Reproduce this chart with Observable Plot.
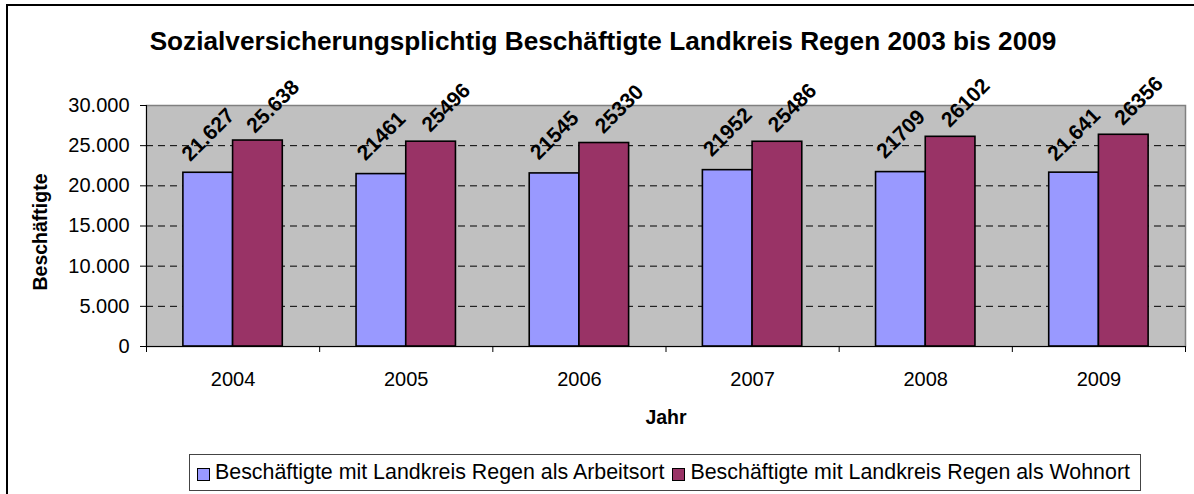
<!DOCTYPE html>
<html>
<head>
<meta charset="utf-8">
<script src="https://cdn.jsdelivr.net/npm/d3@7"></script>
<script src="https://cdn.jsdelivr.net/npm/@observablehq/plot@0.6"></script>
<style>
  html, body { margin: 0; padding: 0; background: #fff; }
  body { width: 1194px; height: 494px; overflow: hidden; font-family: "Liberation Sans", Arial, sans-serif; }
  #wrap { position: relative; width: 1194px; height: 494px; }
  #border { position: absolute; left: 6px; top: 4px; width: 1300px; height: 600px; border-left: 2px solid #000; border-top: 2px solid #000; box-sizing: border-box; }
  #chart { position: absolute; left: 0; top: 0; }
  .title { position: absolute; left: 0; width: 1206px; top: 26px; text-align: center; font-weight: bold; font-size: 26.2px; color: #000; white-space: nowrap; }
  .ylab { position: absolute; left: 40px; top: 232px; transform: translate(-50%, -50%) rotate(-90deg); font-weight: bold; font-size: 19.5px; white-space: nowrap; }
  .xlab { position: absolute; left: 666px; top: 417px; transform: translate(-50%, -50%); font-weight: bold; font-size: 19.5px; white-space: nowrap; }
  .legend { position: absolute; left: 189px; top: 454px; width: 952px; height: 37px; border: 1px solid #444; box-sizing: border-box; display: flex; align-items: center; padding-left: 7px; font-size: 21.4px; white-space: nowrap; background: #fff; }
  .sw { display: inline-block; width: 11px; height: 11px; border: 1px solid #000; margin-right: 5px; margin-top: 3px; }
  .item { display: flex; align-items: center; margin-right: 8px; }
</style>
</head>
<body>
<div id="wrap">
  <div id="border"></div>
  <div id="chart"></div>
  <div class="title" id="title"></div>
  <div class="ylab" id="ylab"></div>
  <div class="xlab" id="xlab"></div>
  <div class="legend" id="legend"></div>
</div>
<script>
// ---- data ----
const years = [2004, 2005, 2006, 2007, 2008, 2009];
const arbeitsort = [21627, 21461, 21545, 21952, 21709, 21641];
const wohnort = [25638, 25496, 25330, 25486, 26102, 26356];
const arbeitsortLabels = ["21.627", "21461", "21545", "21952", "21709", "21.641"];
const wohnortLabels = ["25.638", "25496", "25330", "25486", "26102", "26356"];
const seriesNames = ["Beschäftigte mit Landkreis Regen als Arbeitsort", "Beschäftigte mit Landkreis Regen als Wohnort"];
const seriesColors = ["#9999FF", "#993366"];
const yTicks = [0, 5000, 10000, 15000, 20000, 25000, 30000];
const yTickLabels = ["0", "5.000", "10.000", "15.000", "20.000", "25.000", "30.000"];
const titleText = "Sozialversicherungsplichtig Beschäftigte Landkreis Regen 2003 bis 2009";
const yTitle = "Beschäftigte";
const xTitle = "Jahr";

// ---- derived table ----
const barW = 0.287; // bar width as fraction of a category
const rows = [];
years.forEach((yr, i) => {
  rows.push({year: yr, series: 0, value: arbeitsort[i], label: arbeitsortLabels[i], x1: yr - barW, x2: yr});
  rows.push({year: yr, series: 1, value: wohnort[i], label: wohnortLabels[i], x1: yr, x2: yr + barW});
});
const boundaries = years.map(y => y - 0.5).concat([years[years.length - 1] + 0.5]);
const grid = yTicks.filter(t => t > 0 && t < 30000);

const chart = Plot.plot({
  width: 1194,
  height: 494,
  marginTop: 105,
  marginBottom: 148,
  marginLeft: 146,
  marginRight: 9,
  style: {fontFamily: '"Liberation Sans", Arial, sans-serif', background: "transparent", color: "#000"},
  x: {domain: [boundaries[0], boundaries[boundaries.length - 1]], axis: null},
  y: {domain: [0, 30000], axis: null},
  marks: [
    Plot.frame({fill: "#C0C0C0", stroke: "#808080", strokeWidth: 1.5}),
    Plot.ruleY(grid, {stroke: "#000", strokeDasharray: "7,5", strokeWidth: 1}),
    Plot.rectY(rows, {x1: "x1", x2: "x2", y: "value", fill: d => seriesColors[d.series], stroke: "#000", strokeWidth: 1.6}),
    Plot.ruleX([boundaries[0]], {stroke: "#000", strokeWidth: 1}),
    Plot.ruleY([0], {stroke: "#000", strokeWidth: 1}),
    Plot.axisY({ticks: yTicks, tickFormat: d => yTickLabels[yTicks.indexOf(d)], tickSize: 6, tickPadding: 11, fontSize: 20, label: null}),
    Plot.axisX({ticks: boundaries, tickFormat: () => "", tickSize: 6, label: null}),
    Plot.axisX({ticks: years, tickFormat: d => String(d), tickSize: 0, tickPadding: 25, fontSize: 20, label: null}),
    Plot.text(rows.filter(d => d.series === 0), {x: d => (d.x1 + d.x2) / 2, y: "value", text: "label", rotate: -45, fontWeight: "bold", fontSize: 21, dy: -38}),
    Plot.text(rows.filter(d => d.series === 1), {x: d => (d.x1 + d.x2) / 2, y: "value", text: "label", rotate: -45, fontWeight: "bold", fontSize: 21, dx: 15, dy: -34})
  ]
});
document.getElementById("chart").appendChild(chart);
document.getElementById("title").textContent = titleText;
document.getElementById("ylab").textContent = yTitle;
document.getElementById("xlab").textContent = xTitle;
const leg = document.getElementById("legend");
seriesNames.forEach((n, i) => {
  const it = document.createElement("span");
  it.className = "item";
  const sw = document.createElement("span");
  sw.className = "sw";
  sw.style.background = seriesColors[i];
  const t = document.createElement("span");
  t.textContent = n;
  it.appendChild(sw); it.appendChild(t);
  leg.appendChild(it);
});
</script>
</body>
</html>
